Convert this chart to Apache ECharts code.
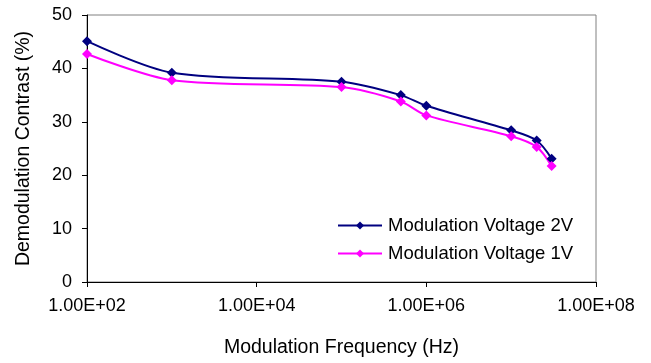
<!DOCTYPE html>
<html>
<head>
<meta charset="utf-8">
<script src="https://cdn.jsdelivr.net/npm/echarts@6/dist/echarts.min.js"></script>
<style>
html,body{margin:0;padding:0;background:#fff;}
#c{width:651px;height:363px;}
</style>
</head>
<body>
<div id="c"></div>
<script>
const frequencies = [100, 1000, 1e5, 5e5, 1e6, 1e7, 2e7, 3e7];
const contrast2V = [45.1, 39.2, 37.5, 35.0, 33.0, 28.4, 26.5, 23.1];
const contrast1V = [42.7, 37.8, 36.5, 33.8, 31.2, 27.3, 25.3, 21.7];
const seriesNames = ['Modulation Voltage 2V', 'Modulation Voltage 1V'];
const xTitle = 'Modulation Frequency (Hz)';
const yTitle = 'Demodulation Contrast (%)';

const font = 'Arial, "Liberation Sans", sans-serif';
const pair = (xs, ys) => xs.map((x, i) => [x, ys[i]]);

const chart = echarts.init(document.getElementById('c'), null, {renderer: 'canvas'});
chart.setOption({
  animation: false,
  backgroundColor: '#fff',
  textStyle: {fontFamily: font},
  grid: {left: 87, right: 55, top: 15, bottom: 81, show: true, borderColor: '#808080', borderWidth: 1, backgroundColor: 'transparent'},
  legend: {
    orient: 'vertical', left: 337, top: 216, padding: 0,
    itemWidth: 44, itemHeight: 10, itemGap: 9,
    textStyle: {fontSize: 18.5, color: '#000', fontFamily: font, lineHeight: 19, padding: [0,0,0,1]},
    data: seriesNames
  },
  xAxis: {
    type: 'log', logBase: 100, min: 100, max: 1e8,
    name: xTitle, nameLocation: 'middle', nameGap: 56,
    nameTextStyle: {fontSize: 19.5, color: '#000', fontFamily: font},
    axisLine: {show: true, lineStyle: {color: '#000', width: 1}},
    axisTick: {show: true, inside: false, length: 5, lineStyle: {color: '#000'}},
    minorTick: {show: false},
    splitLine: {show: false},
    axisLabel: {
      fontSize: 18, color: '#000', margin: 15, fontFamily: font,
      formatter: v => { const e = Math.round(Math.log10(v)); return '1.00E+' + String(e).padStart(2, '0'); }
    }
  },
  yAxis: {
    type: 'value', min: 0, max: 50, interval: 10,
    name: yTitle, nameLocation: 'middle', nameGap: 53, nameRotate: 90,
    nameTextStyle: {fontSize: 19.5, color: '#000', fontFamily: font},
    axisLine: {show: true, lineStyle: {color: '#000', width: 1}},
    axisTick: {show: true, inside: false, length: 5, lineStyle: {color: '#000'}},
    splitLine: {show: false},
    axisLabel: {fontSize: 18, color: '#000', margin: 15, fontFamily: font}
  },
  series: [
    {
      name: seriesNames[0], type: 'line', data: pair(frequencies, contrast2V),
      smooth: 0.3, symbol: 'diamond', symbolSize: 10,
      lineStyle: {color: '#000080', width: 2}, itemStyle: {color: '#000080'}
    },
    {
      name: seriesNames[1], type: 'line', data: pair(frequencies, contrast1V),
      smooth: 0.3, symbol: 'diamond', symbolSize: 10,
      lineStyle: {color: '#FF00FF', width: 2}, itemStyle: {color: '#FF00FF'}
    }
  ]
});
</script>
</body>
</html>
